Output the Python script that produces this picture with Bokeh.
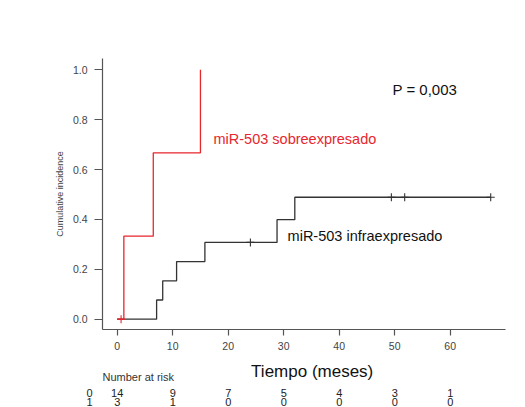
from bokeh.plotting import figure
from bokeh.layouts import column
from bokeh.models import Range1d, FixedTicker, Label
from bokeh.core.properties import value
from bokeh.embed import file_html
from bokeh.resources import INLINE

# Data
low_times = [0, 7.1, 8.2, 10.7, 15.8, 28.8, 32.0, 67.3]
low_values = [0, 0.077, 0.154, 0.231, 0.308, 0.399, 0.489, 0.489]
low_cens_t = [24.0, 49.4, 51.8, 67.3]
low_cens_v = [0.308, 0.489, 0.489, 0.489]

high_times = [0, 1.2, 6.5, 15.0]
high_values = [0, 0.333, 0.667, 1.0]
high_cens_t = [0.7]
high_cens_v = [0.0]

risk_times = [0, 10, 20, 30, 40, 50, 60]
risk_group0 = [14, 9, 7, 5, 4, 3, 1]
risk_group1 = [3, 1, 0, 0, 0, 0, 0]
group_names = ["0", "1"]

x_ticks = [0, 10, 20, 30, 40, 50, 60]
y_ticks = [0.0, 0.2, 0.4, 0.6, 0.8, 1.0]

FONT = "Liberation Sans"
BLACK = "#333333"
RED = "#e8262e"

# layout geometry (pixels)
W = 525
H_MAIN = 358
H_RISK = 49
FRAME_L, FRAME_R, FRAME_T, FRAME_H = 102, 505, 58, 271
X0_PX, PX_PER_MONTH = 116.7, 5.55
Y0_PX, PX_PER_UNIT = 318.7, 249.4


def px_to_month(px):
    return (px - X0_PX) / PX_PER_MONTH


x_range = Range1d(px_to_month(FRAME_L), px_to_month(FRAME_R))
y_range = Range1d((Y0_PX - (FRAME_T + FRAME_H)) / PX_PER_UNIT, (Y0_PX - FRAME_T) / PX_PER_UNIT)

p = figure(width=W, height=H_MAIN, output_backend="svg", toolbar_location=None,
           x_range=x_range, y_range=y_range,
           min_border_left=FRAME_L, min_border_right=W - FRAME_R, min_border_top=FRAME_T,
           min_border_bottom=H_MAIN - FRAME_T - FRAME_H)
p.outline_line_color = None
p.grid.visible = False

p.xaxis.ticker = FixedTicker(ticks=x_ticks)
p.yaxis.ticker = FixedTicker(ticks=y_ticks)
p.yaxis.major_label_overrides = {v: f"{v:.1f}" for v in y_ticks}
p.xaxis.major_label_overrides = {v: str(v) for v in x_ticks}
for ax in (p.xaxis, p.yaxis):
    ax.axis_line_color = "#555555"
    ax.axis_line_width = 1.2
    ax.major_tick_line_color = "#555555"
    ax.major_tick_line_width = 1.2
    ax.minor_tick_line_color = None
    ax.major_tick_in = 0
    ax.major_label_text_font = FONT
    ax.major_label_text_color = "#444444"
    ax.major_label_text_font_size = "10.5px"
p.xaxis.major_tick_out = 6
p.yaxis.major_tick_out = 8
p.xaxis.major_label_standoff = 6
p.yaxis.major_label_standoff = 7

p.yaxis.axis_label = "Cumulative incidence"
p.yaxis.axis_label_text_font = FONT
p.yaxis.axis_label_text_font_style = "normal"
p.yaxis.axis_label_text_font_size = "9px"
p.yaxis.axis_label_text_color = "#444444"
p.yaxis.axis_label_standoff = 5

# curves
p.step(low_times, low_values, mode="after", line_color=BLACK, line_width=1.3)
p.step(high_times, high_values, mode="after", line_color=RED, line_width=1.3)
p.scatter(low_cens_t, low_cens_v, marker="cross", size=8, line_color=BLACK, line_width=1.1)
p.scatter(high_cens_t, high_cens_v, marker="cross", size=8, line_color=RED, line_width=1.1)

# annotations
p.add_layout(Label(x=49.6, y=0.92, text="P = 0,003", text_font=FONT, text_font_size="15px",
                   text_color="#111111", text_baseline="middle"))
p.add_layout(Label(x=17.35, y=0.7245, text="miR-503 sobreexpresado", text_font=FONT,
                   text_font_size="14.5px", text_color=RED, text_baseline="middle"))
p.add_layout(Label(x=30.7, y=0.3356, text="miR-503 infraexpresado", text_font=FONT,
                   text_font_size="14.5px", text_color="#111111", text_baseline="middle"))

# risk table figure below (shares the time axis; group names as its y-axis labels)
row_y = [34.5, 43.5]
r = figure(width=W, height=H_RISK, output_backend="svg", toolbar_location=None,
           x_range=x_range, y_range=Range1d(H_RISK, 0), x_axis_location=None,
           min_border_left=FRAME_L, min_border_right=W - FRAME_R, min_border_top=0,
           min_border_bottom=0)
r.outline_line_color = None
r.grid.visible = False
r.yaxis.ticker = FixedTicker(ticks=row_y)
r.yaxis.major_label_overrides = {y: g for y, g in zip(row_y, group_names)}
r.yaxis.axis_line_color = None
r.yaxis.major_tick_line_color = None
r.yaxis.minor_tick_line_color = None
r.yaxis.major_tick_out = 0
r.yaxis.major_tick_in = 0
r.yaxis.major_label_standoff = 10
r.yaxis.major_label_text_font = FONT
r.yaxis.major_label_text_font_size = "11px"
r.yaxis.major_label_text_color = "#222222"

r.text(x=[px_to_month(311.7)], y=[13], text=["Tiempo (meses)"], text_font=value(FONT),
       text_font_size="17px", text_color="#111111", text_align="center", text_baseline="middle")
r.text(x=[px_to_month(FRAME_L)], y=[18.5], text=["Number at risk"], text_font=value(FONT),
       text_font_size="11px", text_color="#333333", text_align="left", text_baseline="middle")

for counts, ry in zip([risk_group0, risk_group1], row_y):
    r.text(x=risk_times, y=[ry] * len(risk_times), text=[str(c) for c in counts],
           text_font=value(FONT), text_font_size="11px", text_color="#222222",
           text_align="center", text_baseline="middle")

layout = column(p, r, spacing=0)
open("out.html", "w").write(file_html(layout, INLINE))
